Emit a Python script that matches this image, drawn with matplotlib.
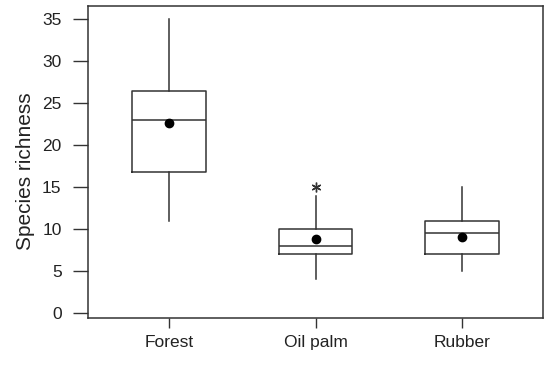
import matplotlib.pyplot as plt
import numpy as np

plt.rcParams['font.family'] = ['Liberation Sans', 'DejaVu Sans']

habitats = ['Forest', 'Oil palm', 'Rubber']
whisker_low = [11.0, 4.0, 5.0]
q1 = [16.75, 7.0, 7.0]
medians = [23.0, 8.0, 9.5]
q3 = [26.5, 10.0, 11.0]
whisker_high = [35.0, 14.0, 15.0]
means = [22.6, 8.8, 9.1]
outliers = [[], [15.0], []]

stats = []
for i, name in enumerate(habitats):
    stats.append({
        'label': name,
        'whislo': whisker_low[i],
        'q1': q1[i],
        'med': medians[i],
        'q3': q3[i],
        'whishi': whisker_high[i],
        'mean': means[i],
        'fliers': outliers[i],
    })

ink = '#333333'
fig = plt.figure(figsize=(5.48, 3.68), dpi=100)
ax = fig.add_axes([0.1606, 0.1359, 0.8303, 0.8478])

ax.bxp(stats, positions=[1, 2, 3], widths=0.5, showmeans=True, showcaps=False,
       boxprops=dict(color=ink, linewidth=1.1),
       medianprops=dict(color=ink, linewidth=1.1),
       whiskerprops=dict(color=ink, linewidth=1.1),
       meanprops=dict(marker='o', markerfacecolor='black', markeredgecolor='black',
                      markersize=6),
       flierprops=dict(marker=(6, 2, 0), markeredgecolor=ink, markersize=7,
                       markeredgewidth=1.0))

ax.set_xlim(0.447, 3.553)
ax.set_ylim(-0.6, 36.6)
ax.set_yticks(np.arange(0, 36, 5))
ax.set_ylabel('Species richness', fontsize=15, color='#222222')
ax.yaxis.set_label_coords(-0.116, 0.47)
ax.tick_params(axis='y', length=11, width=1, color=ink, pad=8, labelsize=12.5,
               labelcolor='#222222')
ax.tick_params(axis='x', length=7.5, width=1, color=ink, pad=4.5, labelsize=12.5,
               labelcolor='#222222')
for s in ax.spines.values():
    s.set_color(ink)
    s.set_linewidth(1.1)

fig.savefig('out.png', dpi=100)
